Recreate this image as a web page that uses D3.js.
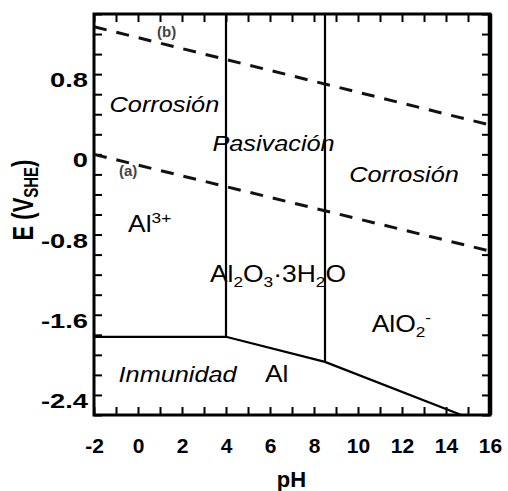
<!DOCTYPE html>
<html lang="es">
<head>
<meta charset="UTF-8">
<title>Diagrama de Pourbaix del aluminio</title>
<script src="https://d3js.org/d3.v7.min.js"></script>
<style>
  body { margin: 0; background: #fff; }
  svg { display: block; }
  text { font-family: "Liberation Sans", Arial, sans-serif; fill: #000; }
  .axis path { display: none; }
  .axis line { stroke: #000; stroke-width: 2px; }
  .xlab text { font-size: 21px; font-weight: bold; }
  .ylab text { font-size: 21px; font-weight: bold; }
  .boundary { fill: none; stroke: #000; stroke-width: 2.2px; }
  .water { fill: none; stroke: #111; stroke-width: 3px; stroke-dasharray: 13 10; }
</style>
</head>
<body>
<script>
// pH / potential ranges and tick labels
const phDomain = [-2, 16];
const eDomain = [-2.6, 1.4];
const phTicks = [-2, 0, 2, 4, 6, 8, 10, 12, 14, 16];
const eTicks = [0.8, 0, -0.8, -1.6, -2.4];

// stability boundaries
const alBoundary = [[-2, -1.82], [4, -1.82], [8.5, -2.07], [14.7, -2.6]];
const oxideLimits = [[4, -1.82], [8.5, -2.07]];   // vertical lines up to the top
const waterA = [[-2, 0.0], [16, -0.965]];
const waterB = [[-2, 1.273], [16, 0.293]];

// region and species labels: [pH, E, anchor, style, parts]
const regionLabels = [
  [1.2, 0.425, "middle", "region", [["Corrosión"]]],
  [6.16, 0.038, "middle", "region", [["Pasivación"]]],
  [12.09, -0.273, "middle", "region", [["Corrosión"]]],
  [1.8, -2.268, "middle", "region", [["Inmunidad"]]],
  [-0.45, -0.775, "start", "species", [["Al"], ["3+", "sup"]]],
  [6.36, -1.273, "middle", "species", [["Al"], ["2", "sub"], ["O"], ["3", "sub"], ["·3H"], ["2", "sub"], ["O"]]],
  [10.62, -1.772, "start", "species", [["AlO"], ["2", "sub"], ["-", "supAfterSub"]]],
  [5.77, -2.268, "start", "species", [["Al"]]]
];
const lineTags = [[1.3, 1.17, "(b)"], [-0.45, -0.22, "(a)"]];

const width = 508, height = 491;
const svg = d3.select("body").append("svg")
  .attr("width", width)
  .attr("height", height);

const x = d3.scaleLinear().domain(phDomain).range([94, 490]);
const y = d3.scaleLinear().domain(eDomain).range([415, 14]);

// inward minor ticks on all four sides
const phMinor = d3.range(phDomain[0], phDomain[1] + 0.5, 1);
const eMinor = d3.range(0, 21).map(i => +(eDomain[0] + i * 0.2).toFixed(1));

svg.append("g").attr("class", "axis").attr("transform", "translate(0,415)")
  .call(d3.axisBottom(x).tickValues(phMinor).tickSize(-8).tickFormat(""));
svg.append("g").attr("class", "axis").attr("transform", "translate(0,14)")
  .call(d3.axisTop(x).tickValues(phMinor).tickSize(-8).tickFormat(""));
svg.append("g").attr("class", "axis").attr("transform", "translate(94,0)")
  .call(d3.axisLeft(y).tickValues(eMinor).tickSize(-8).tickFormat(""));
svg.append("g").attr("class", "axis").attr("transform", "translate(490,0)")
  .call(d3.axisRight(y).tickValues(eMinor).tickSize(-8).tickFormat(""));

// tick labels
const xl = svg.append("g").attr("class", "axis xlab").attr("transform", "translate(0,415)")
  .call(d3.axisBottom(x).tickValues(phTicks).tickSize(0).tickFormat(d => String(d)));
xl.selectAll("text").attr("y", 38).attr("dy", 0);

const yl = svg.append("g").attr("class", "axis ylab").attr("transform", "translate(94,0)")
  .call(d3.axisLeft(y).tickValues(eTicks).tickSize(0)
    .tickFormat(d => d === 0 ? "0" : d.toFixed(1)));
yl.selectAll("text")
  .attr("x", -6 / 1.3).attr("y", 12.5).attr("dy", 0)
  .attr("transform", "scale(1.3,1)");

// frame
svg.append("rect")
  .attr("x", x(phDomain[0])).attr("y", y(eDomain[1]))
  .attr("width", x(phDomain[1]) - x(phDomain[0]))
  .attr("height", y(eDomain[0]) - y(eDomain[1]))
  .attr("fill", "none").attr("stroke", "#000").attr("stroke-width", 3);
svg.append("line")
  .attr("x1", x(phDomain[1])).attr("x2", x(phDomain[1]))
  .attr("y1", y(eDomain[1])).attr("y2", y(eDomain[0]))
  .attr("stroke", "#000").attr("stroke-width", 4.5);

const line = d3.line().x(d => x(d[0])).y(d => y(d[1]));

svg.append("path").attr("class", "boundary").attr("d", line(alBoundary));
svg.selectAll(".vert").data(oxideLimits).enter().append("line")
  .attr("class", "boundary")
  .attr("x1", d => x(d[0])).attr("x2", d => x(d[0]))
  .attr("y1", d => y(d[1])).attr("y2", y(eDomain[1]));

svg.append("path").attr("class", "water").attr("d", line(waterA));
svg.append("path").attr("class", "water").attr("d", line(waterB));

svg.selectAll(".tag").data(lineTags).enter().append("text")
  .attr("x", d => x(d[0])).attr("y", d => y(d[1]))
  .attr("text-anchor", "middle")
  .style("font-size", "15px").style("font-weight", "bold").style("fill", "#444")
  .text(d => d[2]);

// region labels (slightly stretched horizontally, like the source scan)
regionLabels.forEach(([ph, e, anchor, kind, parts]) => {
  const t = svg.append("text")
    .attr("transform", `translate(${x(ph)},${y(e)}) scale(1.15,1)`)
    .attr("text-anchor", anchor)
    .style("font-size", kind === "region" ? "22px" : "23px")
    .style("font-style", kind === "region" ? "italic" : "normal");
  parts.forEach(([s, pos]) => {
    const sp = t.append("tspan").text(s);
    if (pos === "sub") sp.style("font-size", "15px").attr("dy", 5);
    else if (pos === "sup") sp.style("font-size", "15px").attr("dy", -9);
    else if (pos === "supAfterSub") sp.style("font-size", "15px").attr("dy", -14);
    if (!pos) {
      // return to the baseline after a sub/superscript
      const prev = sp.node().previousSibling;
      if (prev && prev.getAttribute("dy")) sp.attr("dy", -(+prev.getAttribute("dy")));
    }
  });
});

// axis titles
svg.append("text")
  .attr("x", 291.5).attr("y", 486.5)
  .attr("text-anchor", "middle")
  .style("font-size", "22px").style("font-weight", "bold")
  .text("pH");

const yt = svg.append("text")
  .attr("transform", "translate(33,200) scale(1.3,1) rotate(-90)")
  .attr("text-anchor", "middle")
  .style("font-size", "22px").style("font-weight", "bold");
yt.append("tspan").text("E (V");
yt.append("tspan").text("SHE").style("font-size", "15px").attr("dy", 4);
yt.append("tspan").text(")").attr("dy", -4);
</script>
</body>
</html>
